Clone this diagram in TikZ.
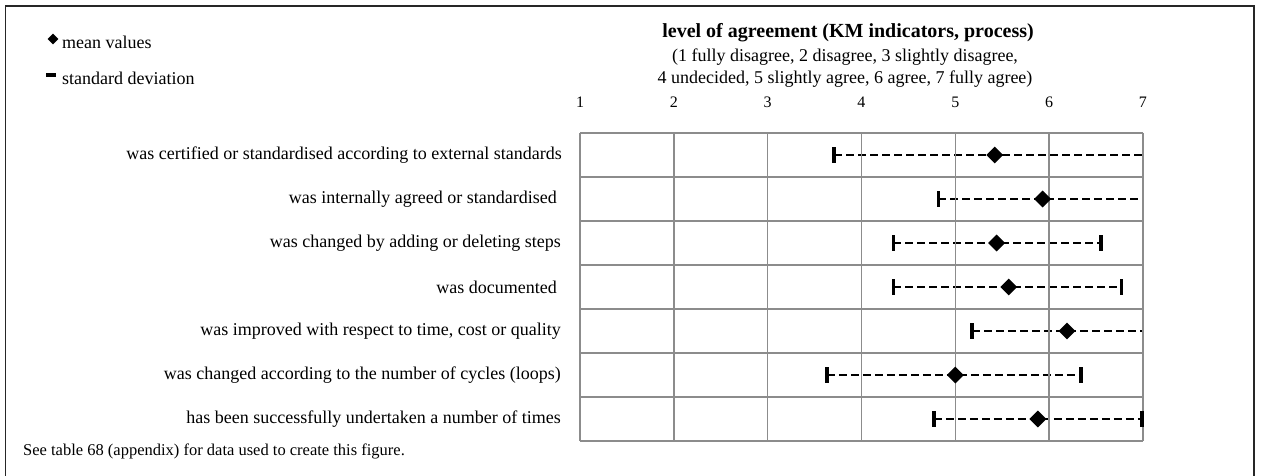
\documentclass[tikz,border=0pt]{standalone}
\usepackage{fontspec}
\setmainfont{Liberation Serif}
\usetikzlibrary{shapes.geometric,backgrounds}
\begin{document}
\begin{tikzpicture}[x=1pt,y=-1pt,
  txt/.style={inner sep=0pt,font=\fontsize{18}{20}\selectfont},
  rowlabel/.style={txt,anchor=east},
  axnum/.style={inner sep=0pt,font=\fontsize{16}{18}\selectfont},
  gridline/.style={draw=black!45,line width=1.6pt},
  meanpt/.style={diamond,fill=black,inner sep=0pt,minimum size=17pt},
  sdtick/.style={rectangle,fill=black,inner sep=0pt,minimum width=3.8pt,minimum height=16pt},
  sdline/.style={line width=2pt,dash pattern=on 8pt off 4pt}]
\useasboundingbox (0,0) rectangle (1261,476);
\clip (0,0) rectangle (1261,476);
% outer frame
\draw[line width=1.4pt,black!85] (5.5,6) rectangle (1254,500);

% legend
\node[meanpt,minimum size=11pt] (legmean) at (53,39) {};
\node[txt,anchor=west] (legmeantxt) at (62,42) {mean values};
\node[rectangle,fill=black,inner sep=0pt,minimum width=10pt,minimum height=4pt] (legsd) at (51,75) {};
\node[txt,anchor=west] (legsdtxt) at (62,78) {standard deviation};

% title and scale description
\node[inner sep=0pt,font=\bfseries\fontsize{20}{22}\selectfont] (title) at (848,33) {level of agreement (KM indicators, process)};
\node[txt] (sub1) at (845,57) {(1 fully disagree, 2 disagree, 3 slightly disagree,};
\node[txt] (sub2) at (845,79) {4 undecided, 5 slightly agree, 6 agree, 7 fully agree)};

% axis numbers
\foreach \v in {1,...,7}
  \node[axnum] (ax\v) at ({580+(\v-1)*93.83},102) {\v};

% grid
\foreach \k in {0,...,7}
  \draw[gridline] (580,{133+44*\k}) -- (1143,{133+44*\k});
\foreach \v in {1,...,7}
  \draw[gridline] ({580+(\v-1)*93.83},133) -- ({580+(\v-1)*93.83},441);

% row labels
\node[rowlabel] (r1lab) at (562,155) {was certified or standardised according to external standards};
\node[rowlabel] (r2lab) at (557,199) {was internally agreed or standardised};
\node[rowlabel] (r3lab) at (561,243) {was changed by adding or deleting steps};
\node[rowlabel] (r4lab) at (557,287) {was documented};
\node[rowlabel] (r5lab) at (561,331) {was improved with respect to time, cost or quality};
\node[rowlabel] (r6lab) at (561,375) {was changed according to the number of cycles (loops)};
\node[rowlabel] (r7lab) at (561,419) {has been successfully undertaken a number of times};

% mean values and standard deviation ranges
% fields: row, lower bound, mean, upper bound (upper 7 = cut at the scale end)
\foreach \r/\lo/\mu/\hi/\tick in {1/3.71/5.42/7/0, 2/4.82/5.93/7/0, 3/4.34/5.44/6.55/1,
    4/4.34/5.57/6.77/1, 5/5.18/6.19/7/0, 6/3.63/5.00/6.34/1, 7/4.77/5.88/6.99/1}{
  \coordinate (lo\r) at ({580+(\lo-1)*93.83},{111+44*\r});
  \coordinate (hi\r) at ({580+(\hi-1)*93.83},{111+44*\r});
  \node[sdtick] (ticklo\r) at (lo\r) {};
  \ifnum\tick=1 \node[sdtick] (tickhi\r) at (hi\r) {}; \fi
  \node[meanpt] (mean\r) at ({580+(\mu-1)*93.83},{111+44*\r}) {};
  \begin{pgfonlayer}{background}
    \draw[sdline] (lo\r) -- (mean\r.center) -- (hi\r);
  \end{pgfonlayer}
}

% note
\node[inner sep=0pt,anchor=west,font=\fontsize{16.5}{18}\selectfont] (note) at (23,451) {See table 68 (appendix) for data used to create this figure.};
\end{tikzpicture}
\end{document}
